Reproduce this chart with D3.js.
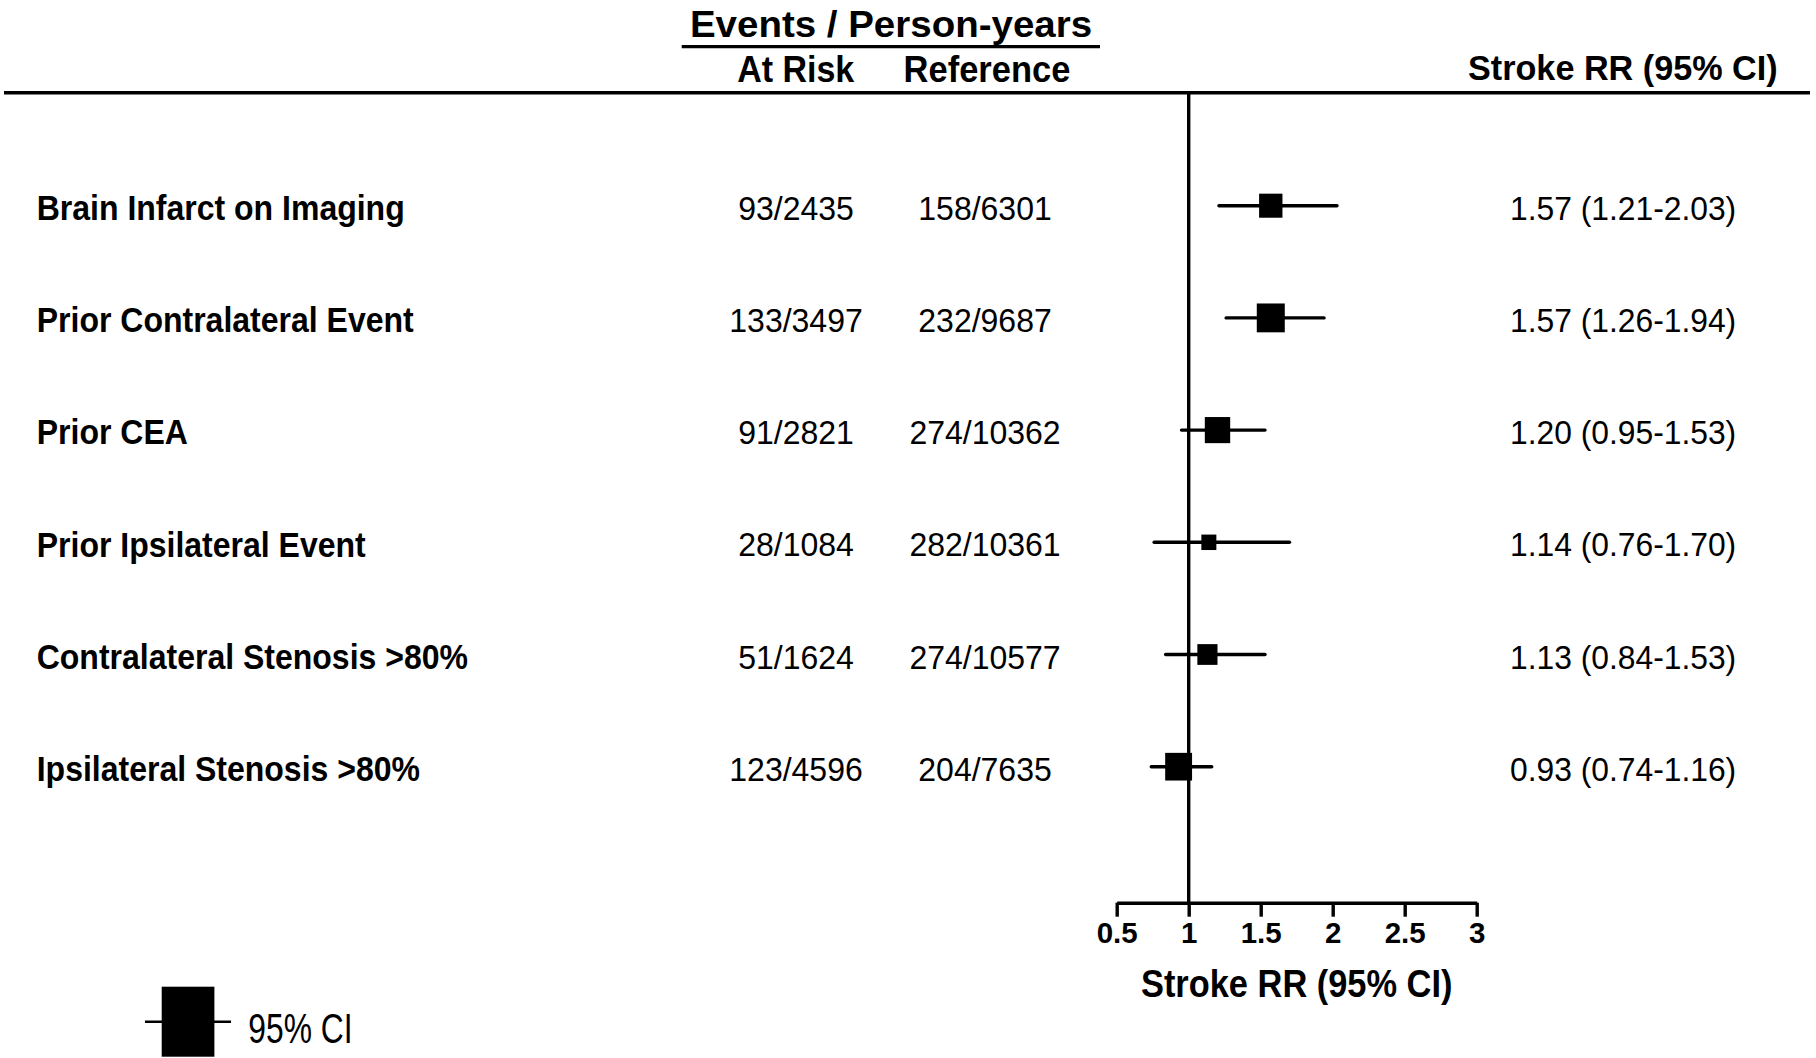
<!DOCTYPE html>
<html>
<head>
<meta charset="utf-8">
<script src="https://cdn.jsdelivr.net/npm/d3@7/dist/d3.min.js"></script>
<style>
  html, body { margin: 0; padding: 0; background: #fff; }
  svg { display: block; }
  text { font-family: "Liberation Sans", Arial, Helvetica, sans-serif; fill: #000; }
</style>
</head>
<body>
<svg id="chart" width="1816" height="1058"></svg>
<script>
// Subgroups compared for stroke risk
const categories = [
  "Brain Infarct on Imaging",
  "Prior Contralateral Event",
  "Prior CEA",
  "Prior Ipsilateral Event",
  "Contralateral Stenosis >80%",
  "Ipsilateral Stenosis >80%"
];
// Events / person-years in the at-risk group
const atRiskEvents = [93, 133, 91, 28, 51, 123];
const atRiskPY     = [2435, 3497, 2821, 1084, 1624, 4596];
// Events / person-years in the reference group
const refEvents = [158, 232, 274, 282, 274, 204];
const refPY     = [6301, 9687, 10362, 10361, 10577, 7635];
// Relative risk with 95% confidence limits
const rr   = [1.57, 1.57, 1.20, 1.14, 1.13, 0.93];
const rrLo = [1.21, 1.26, 0.95, 0.76, 0.84, 0.74];
const rrHi = [2.03, 1.94, 1.53, 1.70, 1.53, 1.16];
// Axis ticks
const tickValues = [0.5, 1, 1.5, 2, 2.5, 3];

const rows = categories.map((c, i) => ({
  name: c,
  atRisk: atRiskEvents[i] + "/" + atRiskPY[i],
  ref: refEvents[i] + "/" + refPY[i],
  rr: rr[i], lo: rrLo[i], hi: rrHi[i],
  // precision ~ 1/SE of log RR; marker size follows it
  precision: 1 / Math.log(rrHi[i] / rrLo[i])
}));

const svg = d3.select("#chart");

const x = d3.scaleLinear().domain([0.5, 3]).range([1116.7, 1476.7]);
const y = d3.scalePoint().domain(categories).range([205.7, 766.7]);
const size = d3.scaleLinear()
  .domain([0, d3.max(rows, d => d.precision)])
  .range([0, 28]);

const axisY = 902.7;
const headerLineY = 92.7;

// text helper with optional glyph stretching
function label(parent, px, py, str, o) {
  const sx = o.sx || 1, sy = o.sy || 1;
  return parent.append("text")
    .attr("transform", `translate(${px},${py}) scale(${sx},${sy})`)
    .attr("font-size", o.size)
    .attr("font-weight", o.bold ? "bold" : "normal")
    .attr("text-anchor", o.anchor || "start")
    .text(str);
}

// ---- Header ----
const head = svg.append("g");
label(head, 891, 37.3, "Events / Person-years", {size: 38.5, bold: true, anchor: "middle", sy: 0.98});
head.append("line")
  .attr("x1", 681.7).attr("x2", 1100).attr("y1", 46.7).attr("y2", 46.7)
  .attr("stroke", "#000").attr("stroke-width", 3.2);
label(head, 795.7, 81.7, "At Risk", {size: 34, bold: true, anchor: "middle", sy: 1.09});
label(head, 987, 81.7, "Reference", {size: 34.5, bold: true, anchor: "middle", sy: 1.09});
label(head, 1468, 80, "Stroke RR (95% CI)", {size: 34.2, bold: true, sy: 1.03});
head.append("line")
  .attr("x1", 4).attr("x2", 1810).attr("y1", headerLineY).attr("y2", headerLineY)
  .attr("stroke", "#000").attr("stroke-width", 3.4);

// ---- Reference line at RR = 1 ----
svg.append("line")
  .attr("x1", x(1)).attr("x2", x(1))
  .attr("y1", headerLineY).attr("y2", axisY)
  .attr("stroke", "#000").attr("stroke-width", 3.4);

// ---- Axis ----
const axisG = svg.append("g")
  .attr("transform", `translate(0,${axisY})`)
  .call(d3.axisBottom(x).tickValues(tickValues).tickSize(14).tickSizeOuter(0)
    .tickFormat(d => String(d)));
axisG.select(".domain").attr("stroke", "#000").attr("stroke-width", 3.4);
axisG.selectAll(".tick line").attr("stroke", "#000").attr("stroke-width", 3.4);
axisG.selectAll(".tick text")
  .attr("y", 40.8).attr("dy", null)
  .attr("font-size", 29.5).attr("font-weight", "bold")
  .attr("font-family", "'Liberation Sans', Arial, sans-serif")
  .attr("fill", "#000");
axisG.attr("font-family", null).attr("font-size", null);

label(svg, (x(0.5) + x(3)) / 2, 996.7, "Stroke RR (95% CI)",
  {size: 34.4, bold: true, anchor: "middle", sy: 1.14});

// ---- Rows ----
const rowG = svg.append("g").selectAll("g.row").data(rows).join("g").attr("class", "row");
rowG.each(function (d) {
  const g = d3.select(this);
  const cy = y(d.name);
  label(g, 36.7, cy + 14.3, d.name, {size: 32, bold: true, sy: 1.09});
  label(g, 796, cy + 14, d.atRisk, {size: 32, anchor: "middle", sy: 1.05});
  label(g, 985, cy + 14, d.ref, {size: 32, anchor: "middle", sy: 1.05});
  label(g, 1510, cy + 14,
    d3.format(".2f")(d.rr) + " (" + d3.format(".2f")(d.lo) + "-" + d3.format(".2f")(d.hi) + ")",
    {size: 31.8, sy: 1.05});
  g.append("line")
    .attr("x1", x(d.lo)).attr("x2", x(d.hi))
    .attr("y1", cy).attr("y2", cy)
    .attr("stroke", "#000").attr("stroke-width", 3.4)
    .attr("stroke-linecap", "round");
  const s = size(d.precision);
  g.append("rect")
    .attr("x", x(d.rr) - s / 2).attr("y", cy - s * 1.03 / 2)
    .attr("width", s).attr("height", s * 1.03)
    .attr("fill", "#000");
});

// ---- Legend ----
const leg = svg.append("g");
leg.append("line")
  .attr("x1", 145).attr("x2", 231).attr("y1", 1021.7).attr("y2", 1021.7)
  .attr("stroke", "#000").attr("stroke-width", 2.6);
leg.append("rect")
  .attr("x", 161.7).attr("y", 986.7).attr("width", 52.7).attr("height", 70)
  .attr("fill", "#000");
label(leg, 248.3, 1042.7, "95% CI", {size: 43, sx: 0.74});
</script>
</body>
</html>
